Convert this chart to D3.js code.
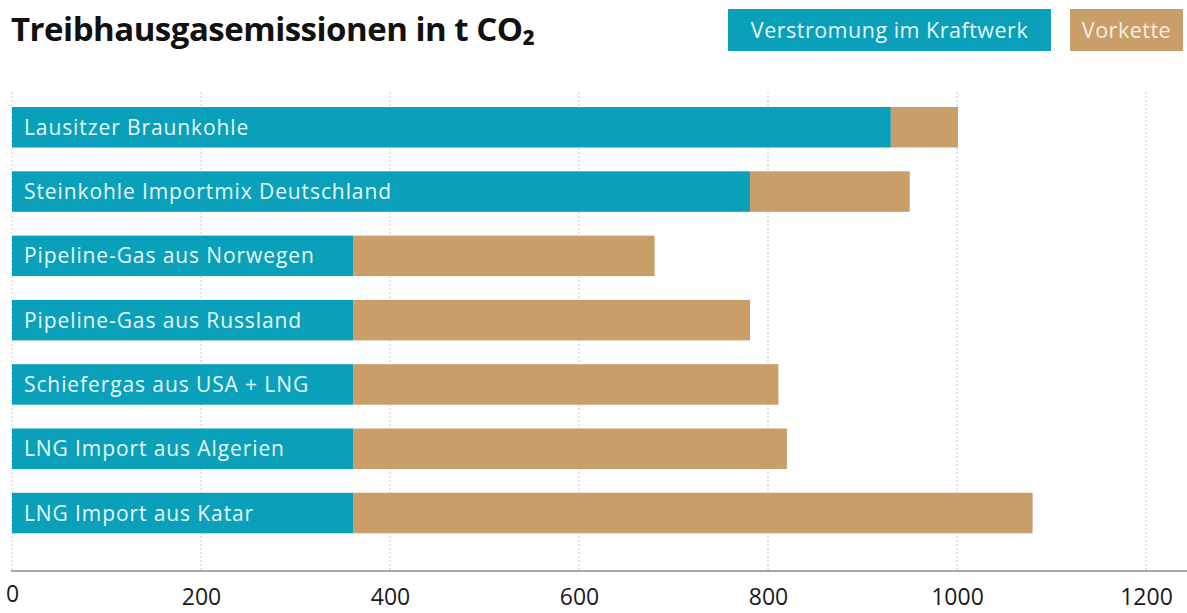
<!DOCTYPE html>
<html>
<head>
<meta charset="utf-8">
<script src="https://cdn.jsdelivr.net/npm/d3@7"></script>
<style>
  html, body { margin: 0; padding: 0; background: #ffffff; }
  svg { display: block; }
</style>
</head>
<body>
<svg id="chart" width="1187" height="613"></svg>
<script>
// ---- data ----
const categories = [
  "Lausitzer Braunkohle",
  "Steinkohle Importmix Deutschland",
  "Pipeline-Gas aus Norwegen",
  "Pipeline-Gas aus Russland",
  "Schiefergas aus USA + LNG",
  "LNG Import aus Algerien",
  "LNG Import aus Katar"
];
const seriesNames = ["Verstromung im Kraftwerk", "Vorkette"];
const kraftwerk = [930, 781, 361, 361, 361, 361, 361];
const vorkette  = [71, 169, 319, 420, 450, 459, 719];
const tickValues = [0, 200, 400, 600, 800, 1000, 1200];
const titleText = "Treibhausgasemissionen in t CO\u2082";

// ---- styles ----
const colors = ["#0aa0ba", "#c99e68"];
const labelColors = ["#e6f7fa", "#f8efe2"];
const font = "'Open Sans', 'DejaVu Sans', sans-serif";

const svg = d3.select("#chart");

const x = d3.scaleLinear().domain([0, 1200]).range([12, 1146]);
const y = d3.scaleBand().domain(categories).range([107, 533.3]).paddingInner(0.37).paddingOuter(0);

const rows = categories.map((c, i) => ({ cat: c, k: kraftwerk[i], v: vorkette[i] }));
const stacked = d3.stack().keys(["k", "v"])(rows);

// gridlines
svg.append("g")
  .selectAll("line")
  .data(tickValues)
  .join("line")
  .attr("x1", d => x(d)).attr("x2", d => x(d))
  .attr("y1", 92).attr("y2", 571)
  .attr("stroke", "#c8c8c8")
  .attr("stroke-width", 1)
  .attr("stroke-dasharray", "2,2");

// bars
svg.append("g")
  .selectAll("g")
  .data(stacked)
  .join("g")
  .attr("fill", (d, i) => colors[i])
  .selectAll("rect")
  .data(d => d)
  .join("rect")
  .attr("x", d => x(d[0]))
  .attr("width", d => x(d[1]) - x(d[0]))
  .attr("y", d => y(d.data.cat))
  .attr("height", y.bandwidth());

// bar labels
svg.append("g")
  .selectAll("text")
  .data(categories)
  .join("text")
  .attr("x", x(0) + 12)
  .attr("y", d => y(d) + y.bandwidth() / 2)
  .attr("dy", "0.36em")
  .attr("fill", labelColors[0])
  .style("font-family", font)
  .style("font-size", "21px")
  .style("letter-spacing", "0.9px")
  .text(d => d);

// x axis
const axis = d3.axisBottom(x).tickValues(tickValues).tickFormat(d3.format("d")).tickSize(0).tickPadding(0);
const gAxis = svg.append("g").attr("transform", "translate(0,571)").call(axis);
gAxis.select(".domain").remove();
gAxis.append("line")
  .attr("x1", x(0) - 1).attr("x2", 1187)
  .attr("y1", 0).attr("y2", 0)
  .attr("stroke", "#a8a8a8").attr("stroke-width", 2);
gAxis.selectAll(".tick text")
  .attr("y", (d, i) => i === 0 ? 31 : 34)
  .attr("dy", 0)
  .attr("text-anchor", "middle")
  .attr("fill", "#1a1a1a")
  .style("font-family", font)
  .style("font-size", "23px");

// title
svg.append("text")
  .attr("x", 11).attr("y", 41)
  .attr("fill", "#111")
  .style("font-family", font)
  .style("font-weight", 700)
  .style("font-size", "33px")
  .style("letter-spacing", "-0.5px")
  .text(titleText);

// legend
const legendBoxes = [
  { x0: 728, x1: 1051 },
  { x0: 1070, x1: 1183 }
];
const lg = svg.append("g").selectAll("g").data(seriesNames).join("g");
lg.append("rect")
  .attr("x", (d, i) => legendBoxes[i].x0)
  .attr("width", (d, i) => legendBoxes[i].x1 - legendBoxes[i].x0)
  .attr("y", 9).attr("height", 42)
  .attr("fill", (d, i) => colors[i]);
lg.append("text")
  .attr("x", (d, i) => (legendBoxes[i].x0 + legendBoxes[i].x1) / 2)
  .attr("y", 30).attr("dy", "0.36em")
  .attr("text-anchor", "middle")
  .attr("fill", (d, i) => labelColors[i])
  .style("font-family", font)
  .style("font-size", "21.5px")
  .style("letter-spacing", "0.5px")
  .text(d => d);
</script>
</body>
</html>
